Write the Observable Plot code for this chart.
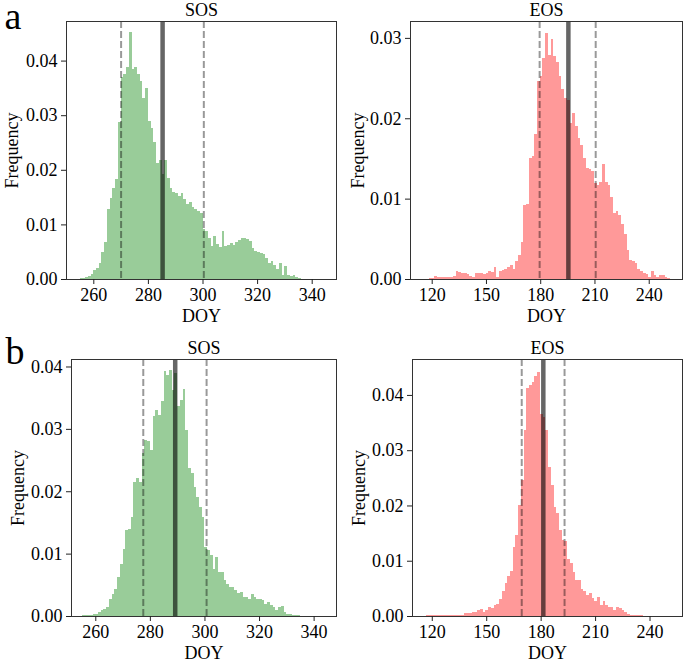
<!DOCTYPE html>
<html>
<head>
<meta charset="utf-8">
<script src="https://cdn.jsdelivr.net/npm/d3@7"></script>
<script src="https://cdn.jsdelivr.net/npm/@observablehq/plot@0.6"></script>
<style>
  body { margin: 0; background: #fff; }
  #fig { position: relative; width: 685px; height: 662px; background: #fff; }
  #fig > div { position: absolute; }
</style>
</head>
<body>
<div id="fig"></div>
<script>
// ---------- DATA ----------
// Panel a, SOS: 1-day bins starting at DOY 255
const aSOSStart = 255, aSOSWidth = 1;
const aSOSFreq = [
  0.0001, 0.0001, 0.0003, 0.0006, 0.0009, 0.0016, 0.0020, 0.0030, 0.0049, 0.0068,
  0.0128, 0.0149, 0.0167, 0.0183, 0.0288, 0.0370, 0.0376, 0.0388, 0.0452, 0.0385,
  0.0388, 0.0375, 0.0363, 0.0332, 0.0350, 0.0290, 0.0276, 0.0250, 0.0212, 0.0218,
  0.0193, 0.0218, 0.0185, 0.0166, 0.0160, 0.0157, 0.0152, 0.0158, 0.0146, 0.0138,
  0.0141, 0.0131, 0.0128, 0.0125, 0.0121, 0.0092, 0.0087, 0.0075, 0.0061, 0.0079,
  0.0064, 0.0058, 0.0087, 0.0060, 0.0062, 0.0066, 0.0063, 0.0068, 0.0072, 0.0075,
  0.0076, 0.0074, 0.0070, 0.0056, 0.0051, 0.0050, 0.0047, 0.0046, 0.0038, 0.0030,
  0.0033, 0.0026, 0.0018, 0.0030, 0.0007, 0.0023, 0.0007, 0.0006, 0.0008, 0.0003,
  0.0001
];
const aSOSLines = { lo: 270.0, mid: 285.2, hi: 300.3 };

// Panel a, EOS: 1.5-day bins starting at DOY 118.25
const aEOSStart = 118.25, aEOSWidth = 1.5;
const aEOSFreq = [
  0.0001, 0.0001, 0.0004, 0.0003, 0.0003, 0.0002, 0.0003, 0.0002, 0.0003, 0.0004,
  0.0010, 0.0009, 0.0007, 0.0008, 0.0006, 0.0004, 0.0003, 0.0008, 0.0008, 0.0007,
  0.0006, 0.0008, 0.0010, 0.0009, 0.0015, 0.0003, 0.0010, 0.0011, 0.0012, 0.0015,
  0.0018, 0.0013, 0.0022, 0.0030, 0.0046, 0.0092, 0.0093, 0.0150, 0.0153, 0.0180,
  0.0246, 0.0252, 0.0275, 0.0306, 0.0279, 0.0298, 0.0277, 0.0270, 0.0252, 0.0237,
  0.0225, 0.0223, 0.0194, 0.0207, 0.0190, 0.0175, 0.0167, 0.0150, 0.0138, 0.0137,
  0.0134, 0.0119, 0.0117, 0.0121, 0.0143, 0.0121, 0.0117, 0.0102, 0.0082, 0.0084,
  0.0080, 0.0069, 0.0056, 0.0036, 0.0024, 0.0022, 0.0020, 0.0013, 0.0010, 0.0007,
  0.0006, 0.0002, 0.0010, 0.0005, 0.0002, 0.0005, 0.0005, 0.0002, 0.0001
];
const aEOSLines = { lo: 179.4, mid: 195.3, hi: 210.4 };

// Panel b, SOS: 1-day bins starting at DOY 255
const bSOSStart = 255, bSOSWidth = 1;
const bSOSFreq = [
  0.0001, 0.0001, 0.0002, 0.0002, 0.0003, 0.0004, 0.0007, 0.0009, 0.0011, 0.0015,
  0.0028, 0.0036, 0.0043, 0.0063, 0.0084, 0.0107, 0.0138, 0.0140, 0.0159, 0.0215,
  0.0221, 0.0215, 0.0261, 0.0282, 0.0280, 0.0266, 0.0320, 0.0330, 0.0322, 0.0344,
  0.0392, 0.0387, 0.0394, 0.0363, 0.0390, 0.0336, 0.0347, 0.0364, 0.0298, 0.0237,
  0.0229, 0.0207, 0.0191, 0.0175, 0.0159, 0.0111, 0.0106, 0.0098, 0.0076, 0.0095,
  0.0070, 0.0071, 0.0058, 0.0052, 0.0046, 0.0046, 0.0042, 0.0037, 0.0039, 0.0031,
  0.0031, 0.0027, 0.0036, 0.0031, 0.0028, 0.0027, 0.0025, 0.0020, 0.0022, 0.0018,
  0.0014, 0.0010, 0.0015, 0.0016, 0.0007, 0.0004, 0.0003, 0.0002, 0.0002, 0.0001
];
const bSOSLines = { lo: 277.4, mid: 289.1, hi: 300.6 };

// Panel b, EOS: 1.5-day bins starting at DOY 116.6
const bEOSStart = 116.6, bEOSWidth = 1.5;
const bEOSFreq = [
  0.0001, 0.0001, 0.0001, 0.0002, 0.0001, 0.0001, 0.0002, 0.0002, 0.0001, 0.0001,
  0.0001, 0.0001, 0.0001, 0.0002, 0.0005, 0.0006, 0.0006, 0.0008, 0.0007, 0.0011,
  0.0013, 0.0008, 0.0010, 0.0016, 0.0014, 0.0019, 0.0022, 0.0030, 0.0045, 0.0060,
  0.0072, 0.0082, 0.0125, 0.0147, 0.0200, 0.0246, 0.0337, 0.0412, 0.0418, 0.0424,
  0.0434, 0.0442, 0.0365, 0.0360, 0.0337, 0.0270, 0.0237, 0.0198, 0.0186, 0.0156,
  0.0138, 0.0135, 0.0103, 0.0095, 0.0080, 0.0065, 0.0065, 0.0048, 0.0046, 0.0038,
  0.0042, 0.0032, 0.0028, 0.0035, 0.0020, 0.0028, 0.0020, 0.0017, 0.0017, 0.0011,
  0.0016, 0.0014, 0.0011, 0.0008, 0.0004, 0.0001, 0.0001, 0.0001, 0.0002, 0.0001
];
const bEOSLines = { lo: 169.3, mid: 181.2, hi: 192.9 };

// Tick values
const sosTicks = [260, 280, 300, 320, 340];
const eosTicks = [120, 150, 180, 210, 240];
const yTicks3 = [0, 0.01, 0.02, 0.03];
const yTicks4 = [0, 0.01, 0.02, 0.03, 0.04];

// ---------- DRAWING ----------
const GREEN = "#99cc99";  // matplotlib green @ alpha 0.4 on white
const RED = "#ff9999";    // matplotlib red @ alpha 0.4 on white
const FONT = "'Liberation Serif', 'Times New Roman', serif";

function bins(start, width, freq) {
  return freq.map((v, i) => ({ x0: start + i * width, x1: start + (i + 1) * width, v }));
}

function panel(o) {
  const data = bins(o.start, o.width, o.freq);
  const marks = [
    Plot.rect(data, { x1: "x0", x2: "x1", y1: 0, y2: "v", fill: o.color, shapeRendering: "crispEdges" }),
    Plot.ruleX([o.lines.mid], { x: d => d, stroke: "black", strokeOpacity: 0.6, strokeWidth: 4.5 }),
    Plot.ruleX([o.lines.lo, o.lines.hi], { x: d => d, stroke: "black", strokeOpacity: 0.4, strokeWidth: 2, strokeDasharray: "7,3" }),
    Plot.frame({ stroke: "#333", strokeWidth: 1 }),
    Plot.axisX({ ticks: o.xTicks, tickSize: 5, tickPadding: 4, label: null, tickFormat: d => String(d), stroke: "#222", fontSize: 18 }),
    Plot.axisY({ ticks: o.yTicks, tickSize: 5, tickPadding: 4, label: null, tickFormat: d3.format(".2f"), stroke: "#222", fontSize: 18 }),
    Plot.text([o.title], { text: d => d, frameAnchor: "top", dy: -6, lineAnchor: "bottom", fill: "black", fontSize: 18 }),
    Plot.text(["DOY"], { text: d => d, frameAnchor: "bottom", dy: 42.5, lineAnchor: "bottom", fill: "black", fontSize: 18 }),
    Plot.text(["Frequency"], { text: d => d, frameAnchor: "left", dx: o.yLabelDx, rotate: -90, textAnchor: "middle", lineAnchor: "middle", fill: "black", fontSize: 18 })
  ];
  if (o.tag) {
    marks.push(Plot.text([o.tag], { text: d => d, frameAnchor: "top-left", dx: o.tagDx, dy: o.tagDy, textAnchor: "start", lineAnchor: "bottom", fontSize: 38, fill: "black" }));
  }
  return Plot.plot({
    width: o.w, height: o.h,
    marginLeft: o.ml, marginRight: o.mr, marginTop: o.mt, marginBottom: o.mb,
    x: { domain: o.xDomain },
    y: { domain: o.yDomain },
    style: { fontFamily: FONT, fontSize: "18px", color: "black", background: "transparent", overflow: "visible" },
    marks
  });
}

const fig = document.getElementById("fig");
function place(node, left, top) {
  const d = document.createElement("div");
  d.style.left = left + "px";
  d.style.top = top + "px";
  d.appendChild(node);
  fig.appendChild(d);
}

place(panel({
  start: aSOSStart, width: aSOSWidth, freq: aSOSFreq, color: GREEN, lines: aSOSLines,
  xDomain: [250, 348.9], yDomain: [0, 0.04725], xTicks: sosTicks, yTicks: yTicks4,
  title: "SOS", tag: "a", tagDx: -62, tagDy: 7, yLabelDx: -54,
  w: 340, h: 330, ml: 66, mr: 4, mt: 21, mb: 51
}), 0, 0);

place(panel({
  start: aEOSStart, width: aEOSWidth, freq: aEOSFreq, color: RED, lines: aEOSLines,
  xDomain: [108, 258.4], yDomain: [0, 0.0321], xTicks: eosTicks, yTicks: yTicks3,
  title: "EOS", yLabelDx: -52,
  w: 345, h: 330, ml: 70, mr: 3, mt: 21, mb: 51
}), 340, 0);

place(panel({
  start: bSOSStart, width: bSOSWidth, freq: bSOSFreq, color: GREEN, lines: bSOSLines,
  xDomain: [251.1, 348.2], yDomain: [0, 0.0412], xTicks: sosTicks, yTicks: yTicks4,
  title: "SOS", tag: "b", tagDx: -66, tagDy: 4, yLabelDx: -53.5,
  w: 340, h: 332, ml: 71, mr: 4, mt: 29, mb: 46
}), 0, 330);

place(panel({
  start: bEOSStart, width: bEOSWidth, freq: bEOSFreq, color: RED, lines: bEOSLines,
  xDomain: [109.1, 257.9], yDomain: [0, 0.0465], xTicks: eosTicks, yTicks: yTicks4,
  title: "EOS", yLabelDx: -53,
  w: 345, h: 332, ml: 72, mr: 3, mt: 29, mb: 46
}), 340, 330);
</script>
</body>
</html>
